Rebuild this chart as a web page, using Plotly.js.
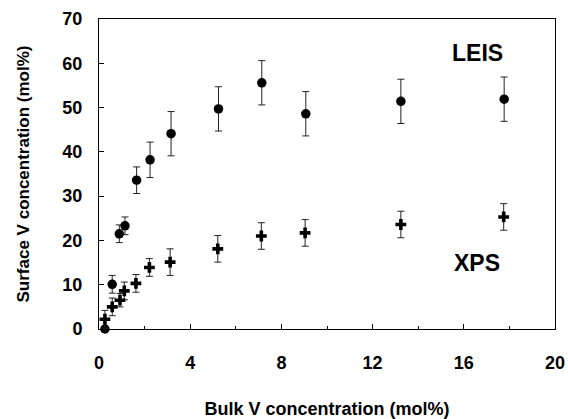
<!DOCTYPE html>
<html>
<head>
<meta charset="utf-8">
<script src="https://cdn.plot.ly/plotly-3.0.1.min.js"></script>
<style>html,body{margin:0;padding:0;background:#fff;}#chart{width:568px;height:419px;}</style>
</head>
<body>
<div id="chart"></div>
<script>
// Bulk V concentration (mol%)
const leisX = [0.26, 0.58, 0.89, 1.14, 1.65, 2.24, 3.16, 5.24, 7.14, 9.07, 13.24, 17.77];
const leisY = [0, 10.1, 21.5, 23.3, 33.6, 38.2, 44.1, 49.7, 55.6, 48.6, 51.4, 51.9];
const leisErr = [0, 2, 2, 2, 3, 4, 5, 5, 5, 5, 5, 5];

const xpsX = [0.26, 0.58, 0.92, 1.11, 1.62, 2.21, 3.12, 5.21, 7.12, 9.04, 13.24, 17.75];
const xpsY = [2.2, 5.0, 6.5, 8.6, 10.3, 13.9, 15.1, 18.1, 21.0, 21.7, 23.6, 25.3];
const xpsErr = [2, 2, 1.5, 2, 2, 2, 3, 3, 3, 3, 3, 3];

const xTicks = [0, 4, 8, 12, 16, 20];
const yTicks = [0, 10, 20, 30, 40, 50, 60, 70];

const FONT = 'Liberation Sans, Arial, Helvetica, sans-serif';

const traces = [
  {
    x: leisX, y: leisY, type: 'scatter', mode: 'markers', name: 'LEIS',
    marker: {symbol: 'circle', size: 9.5, color: '#000'},
    error_y: {type: 'data', array: leisErr, visible: true, color: '#222', thickness: 1, width: 3.5},
    cliponaxis: false
  },
  {
    x: xpsX, y: xpsY, type: 'scatter', mode: 'markers', name: 'XPS',
    marker: {symbol: 'cross', size: 9, color: '#000'},
    error_y: {type: 'data', array: xpsErr, visible: true, color: '#222', thickness: 1, width: 3.5},
    cliponaxis: false
  }
];

const layout = {
  width: 568, height: 419,
  margin: {l: 99, r: 13, t: 19, b: 90},
  paper_bgcolor: '#fff', plot_bgcolor: '#fff',
  showlegend: false,
  font: {family: FONT, color: '#000', weight: 'bold'},
  xaxis: {
    range: [0, 20], tickvals: xTicks, ticktext: xTicks.map(String),
    ticks: 'inside', ticklen: 5, tickcolor: '#000', tickwidth: 1,
    minor: {tickvals: [2, 6, 10, 14, 18], ticks: 'inside', ticklen: 3, tickcolor: '#000'},
    showgrid: false, zeroline: false,
    showline: true, linecolor: '#000', linewidth: 1, mirror: true,
    tickfont: {family: FONT, size: 18, weight: 'bold', color: '#000'},
    ticklabelstandoff: 17,
    title: {text: 'Bulk V concentration (mol%)', font: {family: FONT, size: 18, weight: 'bold', color: '#000'}, standoff: 32}
  },
  yaxis: {
    range: [0, 70], tickvals: yTicks, ticktext: yTicks.map(String),
    ticks: 'inside', ticklen: 5, tickcolor: '#000', tickwidth: 1,
    showgrid: false, zeroline: false,
    showline: true, linecolor: '#000', linewidth: 1, mirror: true,
    tickfont: {family: FONT, size: 18, weight: 'bold', color: '#000'},
    ticklabelstandoff: 12,
    title: {text: 'Surface V concentration (mol%)', font: {family: FONT, size: 17, weight: 'bold', color: '#000'}, standoff: 28}
  },
  annotations: [
    {x: 0.829, y: 0.89, xref: 'paper', yref: 'paper', text: 'LEIS', showarrow: false,
     font: {family: FONT, size: 23, weight: 'bold', color: '#000'}, xanchor: 'center', yanchor: 'middle'},
    {x: 0.829, y: 0.213, xref: 'paper', yref: 'paper', text: 'XPS', showarrow: false,
     font: {family: FONT, size: 23, weight: 'bold', color: '#000'}, xanchor: 'center', yanchor: 'middle'}
  ]
};

Plotly.newPlot('chart', traces, layout, {displayModeBar: false, staticPlot: true});
</script>
</body>
</html>
